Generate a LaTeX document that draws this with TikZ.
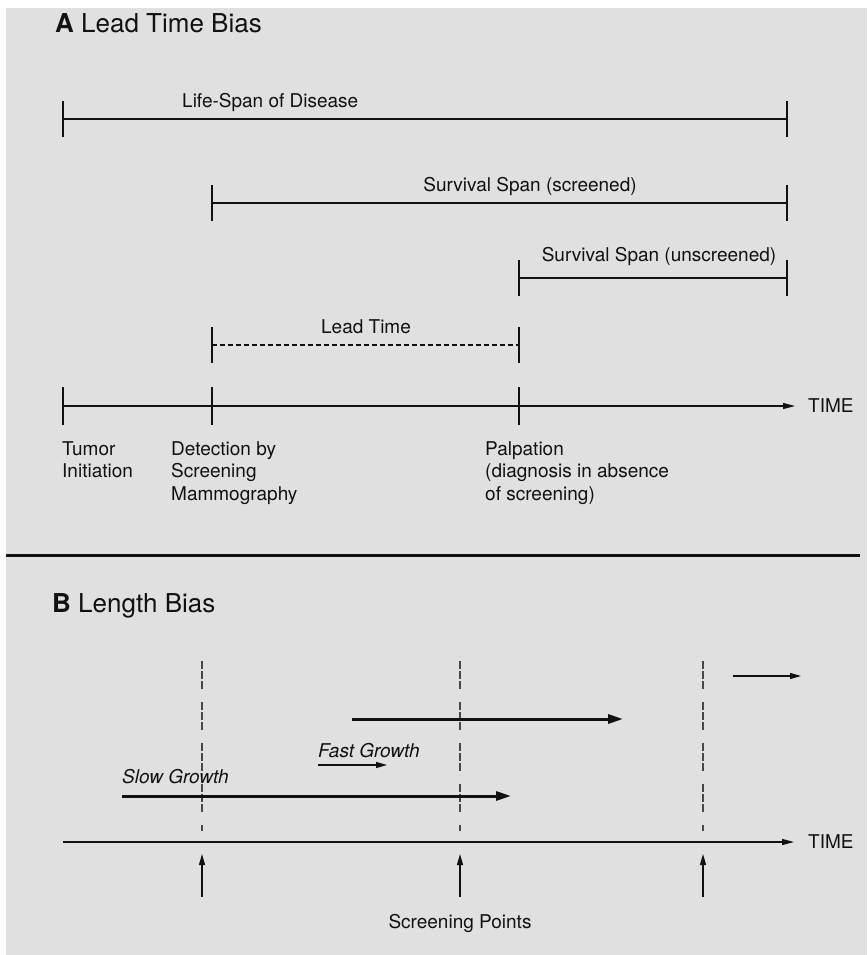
\documentclass[tikz,border=0pt]{standalone}
\usepackage{fontspec}
\setmainfont{TeX Gyre Heros}
\usetikzlibrary{arrows.meta}
\definecolor{bg}{HTML}{E0E0E0}
\definecolor{ink}{HTML}{111111}
\begin{document}
\begin{tikzpicture}[x=1pt,y=-1pt,
  lbl/.style={font=\fontsize{19}{22.5}\selectfont, inner sep=0pt, text=ink},
  ttl/.style={font=\fontsize{26}{30}\selectfont, inner sep=0pt, text=ink},
  spanline/.style={line width=1.2pt, draw=ink},
  leadline/.style={line width=1.2pt, draw=ink, dash pattern=on 5pt off 3pt},
  axis/.style={line width=1.2pt, draw=ink, -{Triangle[length=12pt,width=6pt]}},
  thinarrow/.style={line width=1.3pt, draw=ink, -{Triangle[length=11pt,width=6pt]}},
  thickarrow/.style={line width=3pt, draw=ink, -{Triangle[length=15pt,width=9pt]}},
  screendash/.style={line width=1.2pt, draw=black!72, dash pattern=on 8pt off 2pt on 8pt off 2pt on 8pt off 13pt},
  sep/.style={line width=3pt, draw=ink}
]
\useasboundingbox (0,0) rectangle (867,955);
\fill[bg] (6,8) rectangle (867,955);

% ---------- Part A ----------
\node[ttl, anchor=base west] (titleA) at (55,33) {\textbf{A} Lead Time Bias};

% Life-span
\coordinate (ls1) at (63,119);
\coordinate (ls2) at (787,119);
\draw[spanline] (ls1) -- (ls2);
\draw[spanline] (ls1) ++(0,-18) -- ++(0,36);
\draw[spanline] (ls2) ++(0,-18) -- ++(0,36);
\node[lbl, anchor=base west] (lsl) at (182,108) {Life-Span of Disease};

% Survival span screened
\coordinate (ss1) at (212,203);
\coordinate (ss2) at (787,203);
\draw[spanline] (ss1) -- (ss2);
\draw[spanline] (ss1) ++(0,-18) -- ++(0,36);
\draw[spanline] (ss2) ++(0,-18) -- ++(0,36);
\node[lbl, anchor=base] (ssl) at (530,191) {Survival Span (screened)};

% Survival span unscreened
\coordinate (su1) at (519,278);
\coordinate (su2) at (787,278);
\draw[spanline] (su1) -- (su2);
\draw[spanline] (su1) ++(0,-18) -- ++(0,36);
\draw[spanline] (su2) ++(0,-18) -- ++(0,36);
\node[lbl, anchor=base] (sul) at (659,261) {Survival Span (unscreened)};

% Lead time
\coordinate (lt1) at (212,345);
\coordinate (lt2) at (519,345);
\draw[leadline] (lt1) -- (lt2);
\draw[spanline] (lt1) ++(0,-18) -- ++(0,36);
\draw[spanline] (lt2) ++(0,-18) -- ++(0,36);
\node[lbl, anchor=base] (ltl) at (366,333) {Lead Time};

% Time axis A
\coordinate (ax1) at (63,406);
\coordinate (axD) at (212,406);
\coordinate (axP) at (519,406);
\coordinate (ax2) at (795,406);
\node[lbl, anchor=west] (timeA) at (808,406) {TIME};
\draw[axis] (ax1) -- (ax2);
\draw[spanline] (ax1) ++(0,-19) -- ++(0,38);
\draw[spanline] (axD) ++(0,-19) -- ++(0,38);
\draw[spanline] (axP) ++(0,-19) -- ++(0,38);

\node[lbl, anchor=north west, align=left] (tumor) at (62,441) {Tumor\\Initiation};
\node[lbl, anchor=north west, align=left] (detect) at (171,441) {Detection by\\Screening\\Mammography};
\node[lbl, anchor=north west, align=left] (palp) at (485,441) {Palpation\\(diagnosis in absence\\of screening)};

% separator
\coordinate (sp1) at (6,555);
\coordinate (sp2) at (860,555);
\draw[sep] (sp1) -- (sp2);

% ---------- Part B ----------
\node[ttl, anchor=base west] (titleB) at (52,612) {\textbf{B} Length Bias};

\coordinate (v1t) at (202,661);
\coordinate (v1b) at (202,831);
\coordinate (v2t) at (460,661);
\coordinate (v2b) at (460,831);
\coordinate (v3t) at (703,661);
\coordinate (v3b) at (703,831);
\draw[screendash] (v1t) -- (v1b);
\draw[screendash] (v2t) -- (v2b);
\draw[screendash] (v3t) -- (v3b);

% time axis B
\coordinate (bx1) at (63,842);
\coordinate (bx2) at (794,842);
\draw[axis] (bx1) -- (bx2);
\node[lbl, anchor=west] (timeB) at (808,842) {TIME};

% growth arrows
\coordinate (sg1) at (122,796);
\coordinate (sg2) at (511,796);
\draw[thickarrow] (sg1) -- (sg2);
\node[lbl, anchor=base west, font=\fontsize{19}{22.5}\selectfont\itshape] (sgl) at (122,783) {Slow Growth};

\coordinate (fg1) at (352,719);
\coordinate (fg2) at (623,719);
\draw[thickarrow] (fg1) -- (fg2);
\node[lbl, anchor=base west, font=\fontsize{19}{22.5}\selectfont\itshape] (fgl) at (318,757) {Fast Growth};
\coordinate (fs1) at (318,765);
\coordinate (fs2) at (387,765);
\draw[thinarrow] (fs1) -- (fs2);

\coordinate (tr1) at (733,676);
\coordinate (tr2) at (801,676);
\draw[thinarrow] (tr1) -- (tr2);

% screening point arrows
\coordinate (u1b) at (202,897);
\coordinate (u1t) at (202,854);
\coordinate (u2b) at (460,897);
\coordinate (u2t) at (460,854);
\coordinate (u3b) at (703,897);
\coordinate (u3t) at (703,854);
\draw[thinarrow] (u1b) -- (u1t);
\draw[thinarrow] (u2b) -- (u2t);
\draw[thinarrow] (u3b) -- (u3t);
\node[lbl, anchor=base] (spl) at (460,928) {Screening Points};
\end{tikzpicture}
\end{document}
